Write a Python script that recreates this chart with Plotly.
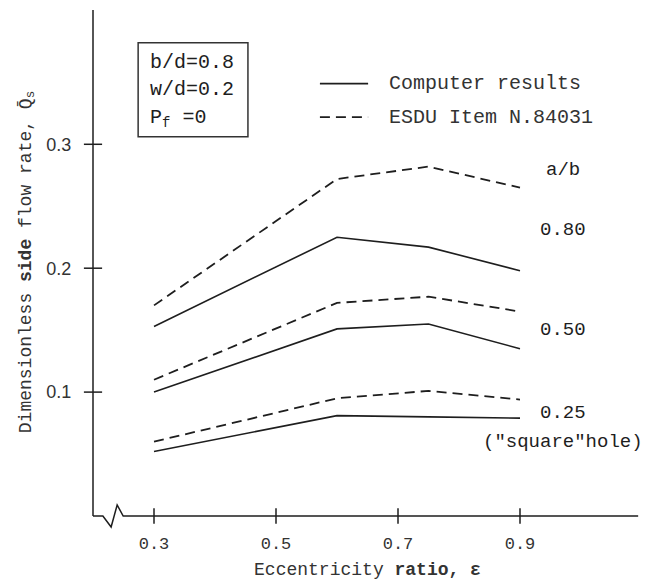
import plotly.graph_objects as go

# Eccentricity ratio values at which side flow was evaluated
eccentricity = [0.3, 0.6, 0.75, 0.9]

# Dimensionless side flow rate, computer results (solid) and ESDU Item 84031 (dashed)
computed_080 = [0.153, 0.225, 0.217, 0.198]
esdu_080 = [0.170, 0.272, 0.282, 0.265]
computed_050 = [0.100, 0.151, 0.155, 0.135]
esdu_050 = [0.110, 0.172, 0.177, 0.165]
computed_025 = [0.052, 0.081, 0.080, 0.079]
esdu_025 = [0.060, 0.095, 0.101, 0.094]

x_ticks = [0.3, 0.5, 0.7, 0.9]
x_tick_text = ["0.3", "0.5", "0.7", "0.9"]
y_ticks = [0.1, 0.2, 0.3]
y_tick_text = ["0.1", "0.2", "0.3"]

curve_labels = ["a/b", "0.80", "0.50", "0.25", "(\"square\"hole)"]
curve_label_y = [0.279, 0.231, 0.150, 0.083, 0.060]

box_lines = ["b/d=0.8", "w/d=0.2", "P<sub>f</sub> =0"]
legend_names = ["Computer results", "ESDU Item N.84031"]

INK = "#1e1e1e"
MONO = "Liberation Mono, DejaVu Sans Mono, monospace"
SANS = "Liberation Sans, Arial, sans-serif"
DASH = "10px,6px"

fig = go.Figure()

series = [
    (computed_080, "solid", legend_names[0] + " a/b=0.80"),
    (esdu_080, DASH, legend_names[1] + " a/b=0.80"),
    (computed_050, "solid", legend_names[0] + " a/b=0.50"),
    (esdu_050, DASH, legend_names[1] + " a/b=0.50"),
    (computed_025, "solid", legend_names[0] + " a/b=0.25"),
    (esdu_025, DASH, legend_names[1] + " a/b=0.25"),
]
for values, dash, name in series:
    fig.add_trace(go.Scatter(
        x=eccentricity, y=values, mode="lines", name=name,
        line=dict(color=INK, width=1.6 if dash == "solid" else 1.8, dash=dash),
        showlegend=False, hoverinfo="x+y+name",
    ))

# Crossing tick marks on both axes
fig.add_trace(go.Scatter(
    x=x_ticks, y=[0] * len(x_ticks), mode="markers", cliponaxis=False,
    marker=dict(symbol="line-ns-open", size=11, color=INK, line=dict(color=INK, width=1.5)),
    showlegend=False, hoverinfo="skip",
))
fig.add_trace(go.Scatter(
    x=[0.2] * len(y_ticks), y=y_ticks, mode="markers", cliponaxis=False,
    marker=dict(symbol="line-ew-open", size=13, color=INK, line=dict(color=INK, width=1.5)),
    showlegend=False, hoverinfo="skip",
))

shapes = [
    # y axis line
    dict(type="line", xref="paper", yref="paper", x0=0, x1=0, y0=0, y1=0.996,
         line=dict(color=INK, width=1.5)),
    # x axis with a break symbol near the origin
    dict(type="path", xref="paper", yref="paper",
         path="M 0,0 L 0.018,0 L 0.033,-0.0217 L 0.044,0.0217 L 0.055,0 L 0.993,0",
         line=dict(color=INK, width=1.5)),
    # parameter box
    dict(type="rect", xref="x", yref="y", x0=0.274, x1=0.454, y0=0.306, y1=0.382,
         line=dict(color="#333333", width=1.5)),
    # legend samples
    dict(type="line", xref="x", yref="y", x0=0.572, x1=0.651, y0=0.349, y1=0.349,
         line=dict(color=INK, width=1.6)),
    dict(type="line", xref="x", yref="y", x0=0.572, x1=0.651, y0=0.322, y1=0.322,
         line=dict(color=INK, width=1.8, dash=DASH)),
]

annotations = []
for name, yy in zip(legend_names, [0.349, 0.322]):
    annotations.append(dict(x=0.682, y=yy, xref="x", yref="y", text=name, showarrow=False,
                            xanchor="left", yanchor="middle",
                            font=dict(family=MONO, size=20, color="#333333")))
for label, yy in zip(curve_labels, curve_label_y):
    annotations.append(dict(x=0.970, y=yy, xref="x", yref="y", text=label, showarrow=False,
                            xanchor="center", yanchor="middle",
                            font=dict(family=MONO, size=19, color=INK)))
for line, yy in zip(box_lines, [0.366, 0.344, 0.321]):
    annotations.append(dict(x=0.290, y=yy, xref="x", yref="y", text=line, showarrow=False,
                            xanchor="left", yanchor="middle",
                            font=dict(family=MONO, size=20, color=INK)))

fig.update_layout(
    width=658, height=586,
    margin=dict(l=93, r=16, t=8, b=70),
    paper_bgcolor="white", plot_bgcolor="white",
    shapes=shapes, annotations=annotations,
    xaxis=dict(
        range=[0.2, 1.1], showgrid=False, zeroline=False, showline=False,
        tickmode="array", tickvals=x_ticks, ticktext=x_tick_text,
        ticks="outside", ticklen=12, tickcolor="rgba(0,0,0,0)",
        tickfont=dict(family=MONO, size=17, color="#333333"),
        title=dict(text="Eccentricity <b>ratio, ε</b>", standoff=8,
                   font=dict(family=MONO, size=18, color="#333333")),
    ),
    yaxis=dict(
        range=[0, 0.41], showgrid=False, zeroline=False, showline=False,
        tickmode="array", tickvals=y_ticks, ticktext=y_tick_text,
        ticks="outside", ticklen=17, tickcolor="rgba(0,0,0,0)",
        tickfont=dict(family=SANS, size=18, color="#333333"),
        title=dict(text="Dimensionless <b>side</b> flow rate, Q̄<sub>s</sub>", standoff=10,
                   font=dict(family=MONO, size=18, color="#333333")),
    ),
)

fig.write_html("out.html")
